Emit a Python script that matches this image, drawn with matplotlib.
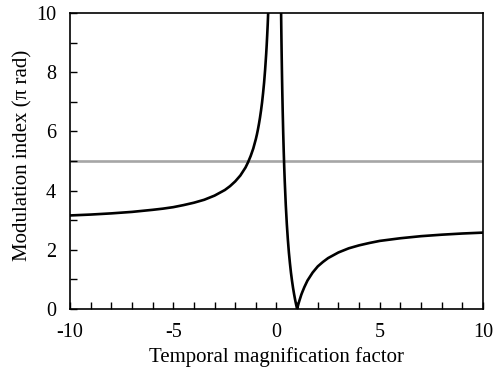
import matplotlib
matplotlib.use("Agg")
import matplotlib.pyplot as plt
from matplotlib.ticker import MultipleLocator
import numpy as np

# values (negative branch, then 0 < M, split at the pole M = 0)
m_neg = [-10, -9, -8, -7, -6, -5.5, -5, -4.5, -4, -3.5, -3, -2.5, -2.25, -2, -1.75, -1.5,
         -1.375, -1.25, -1.125, -1.0, -0.95, -0.9, -0.85, -0.8, -0.75, -0.7, -0.65, -0.6,
         -0.55, -0.5, -0.475, -0.45, -0.425, -0.4, -0.38]
idx_neg = [3.16, 3.19, 3.23, 3.28, 3.35, 3.39, 3.44, 3.51, 3.59, 3.69, 3.83, 4.02, 4.15, 4.31, 4.51, 4.78,
           4.96, 5.17, 5.42, 5.74, 5.89, 6.06, 6.25, 6.46, 6.70, 6.97, 7.29, 7.65,
           8.09, 8.61, 8.91, 9.25, 9.62, 10.05, 10.42]

m_pos = [0.2, 0.21, 0.22, 0.23, 0.24, 0.25, 0.26, 0.27, 0.28, 0.3, 0.325, 0.35, 0.375, 0.4, 0.45,
         0.5, 0.55, 0.6, 0.65, 0.7, 0.75, 0.8, 0.85, 0.9, 0.95, 1.0,
         1.05, 1.1, 1.2, 1.25, 1.35, 1.5, 1.75, 2, 2.25, 2.5, 3, 3.5, 4, 4.5, 5, 6, 7, 8, 9, 10]
idx_pos = [11.48, 10.80, 10.18, 9.61, 9.09, 8.61, 8.17, 7.76, 7.38, 6.70, 5.96, 5.33, 4.78, 4.31, 3.51,
           2.87, 2.35, 1.91, 1.55, 1.23, 0.96, 0.72, 0.51, 0.32, 0.15, 0.0,
           0.14, 0.26, 0.48, 0.57, 0.74, 0.96, 1.23, 1.44, 1.59, 1.72, 1.91, 2.05, 2.15, 2.23, 2.30,
           2.39, 2.46, 2.51, 2.55, 2.58]

threshold = 5

plt.rcParams['font.family'] = ['Liberation Serif', 'DejaVu Serif']
plt.rcParams['axes.unicode_minus'] = False

fig = plt.figure(figsize=(4.94, 3.70), dpi=100)
ax = fig.add_axes([0.1417, 0.1649, 0.836, 0.800])

ax.axhline(threshold, color='#a6a6a6', lw=1.9, zorder=1)
ax.plot(m_neg, idx_neg, color='black', lw=1.9, zorder=2)
ax.plot(m_pos, idx_pos, color='black', lw=1.9, zorder=2)

ax.set_xlim(-10, 10)
ax.set_ylim(0, 10)
ax.xaxis.set_major_locator(MultipleLocator(5))
ax.xaxis.set_minor_locator(MultipleLocator(1))
ax.yaxis.set_major_locator(MultipleLocator(2))
ax.yaxis.set_minor_locator(MultipleLocator(1))
ax.tick_params(which='both', direction='in', length=5, width=1, top=False, right=False,
               labelsize=14.5)
ax.tick_params(axis='x', pad=10)
ax.tick_params(axis='y', pad=10)

for s in ax.spines.values():
    s.set_linewidth(1.2)

ax.set_xlabel('Temporal magnification factor', fontsize=15, labelpad=4)
ax.set_ylabel('Modulation index (π rad)', fontsize=15)
ax.yaxis.set_label_coords(-0.092, 0.52)

fig.savefig('out.png', dpi=100)
